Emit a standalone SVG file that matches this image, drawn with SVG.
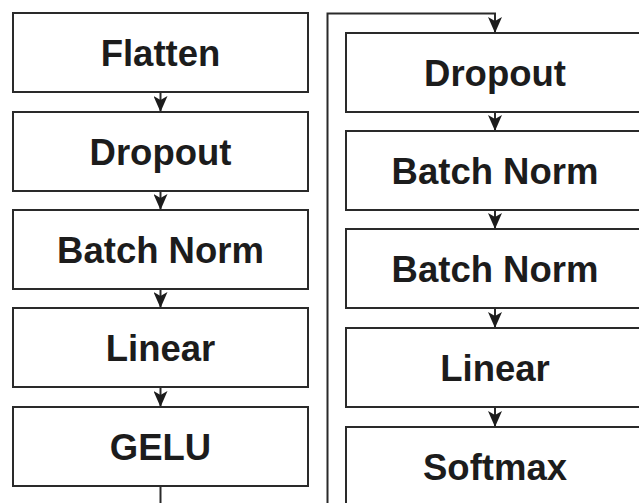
<svg xmlns="http://www.w3.org/2000/svg" width="639" height="503" viewBox="0 0 639 503">
<style>
.box{fill:#fff;stroke:#2a2a2a;stroke-width:2}
.lbl{font-family:"Liberation Sans",Arial,Helvetica,sans-serif;font-weight:bold;font-size:36.5px;fill:#1c1c1c;text-anchor:middle}
.con{fill:none;stroke:#2a2a2a;stroke-width:2}
</style>
<defs>
<marker id="ah" viewBox="0 0 16 14" refX="15" refY="7" markerWidth="16" markerHeight="14" markerUnits="userSpaceOnUse" orient="auto">
<path d="M0,0 L16,7 L0,14 L4,7 Z" fill="#1c1c1c"/>
</marker>
</defs>
<rect width="639" height="503" fill="#fff"/>
<g id="connectors">
<line class="con" x1="160.5" y1="92" x2="160.5" y2="111" marker-end="url(#ah)"/>
<line class="con" x1="160.5" y1="191" x2="160.5" y2="209" marker-end="url(#ah)"/>
<line class="con" x1="160.5" y1="289" x2="160.5" y2="307" marker-end="url(#ah)"/>
<line class="con" x1="160.5" y1="387" x2="160.5" y2="406" marker-end="url(#ah)"/>
<line class="con" x1="160.5" y1="486" x2="160.5" y2="504"/>
<polyline class="con" points="327.5,504 327.5,13.5 495,13.5 495,32" marker-end="url(#ah)"/>
<line class="con" x1="495" y1="112" x2="495" y2="130" marker-end="url(#ah)"/>
<line class="con" x1="495" y1="210" x2="495" y2="228" marker-end="url(#ah)"/>
<line class="con" x1="495" y1="308" x2="495" y2="327" marker-end="url(#ah)"/>
<line class="con" x1="495" y1="407" x2="495" y2="426" marker-end="url(#ah)"/>
</g>
<g id="flatten"><rect class="box" x="13" y="13" width="295" height="79"/><text class="lbl" x="160.5" y="65.5">Flatten</text></g>
<g id="dropout1"><rect class="box" x="13" y="112" width="295" height="79"/><text class="lbl" x="160.5" y="164.5">Dropout</text></g>
<g id="batchnorm1"><rect class="box" x="13" y="210" width="295" height="79"/><text class="lbl" x="160.5" y="262.5">Batch Norm</text></g>
<g id="linear1"><rect class="box" x="13" y="308" width="295" height="79"/><text class="lbl" x="160.5" y="360.5">Linear</text></g>
<g id="gelu"><rect class="box" x="13" y="407" width="295" height="79"/><text class="lbl" x="160.5" y="459.5">GELU</text></g>
<g id="dropout2"><rect class="box" x="346" y="33" width="300" height="79"/><text class="lbl" x="495" y="85.5">Dropout</text></g>
<g id="batchnorm2"><rect class="box" x="346" y="131" width="300" height="79"/><text class="lbl" x="495" y="183.5">Batch Norm</text></g>
<g id="batchnorm3"><rect class="box" x="346" y="229" width="300" height="79"/><text class="lbl" x="495" y="281.5">Batch Norm</text></g>
<g id="linear2"><rect class="box" x="346" y="328" width="300" height="79"/><text class="lbl" x="495" y="380.5">Linear</text></g>
<g id="softmax"><rect class="box" x="346" y="427" width="300" height="90"/><text class="lbl" x="495" y="479.5">Softmax</text></g>
</svg>
